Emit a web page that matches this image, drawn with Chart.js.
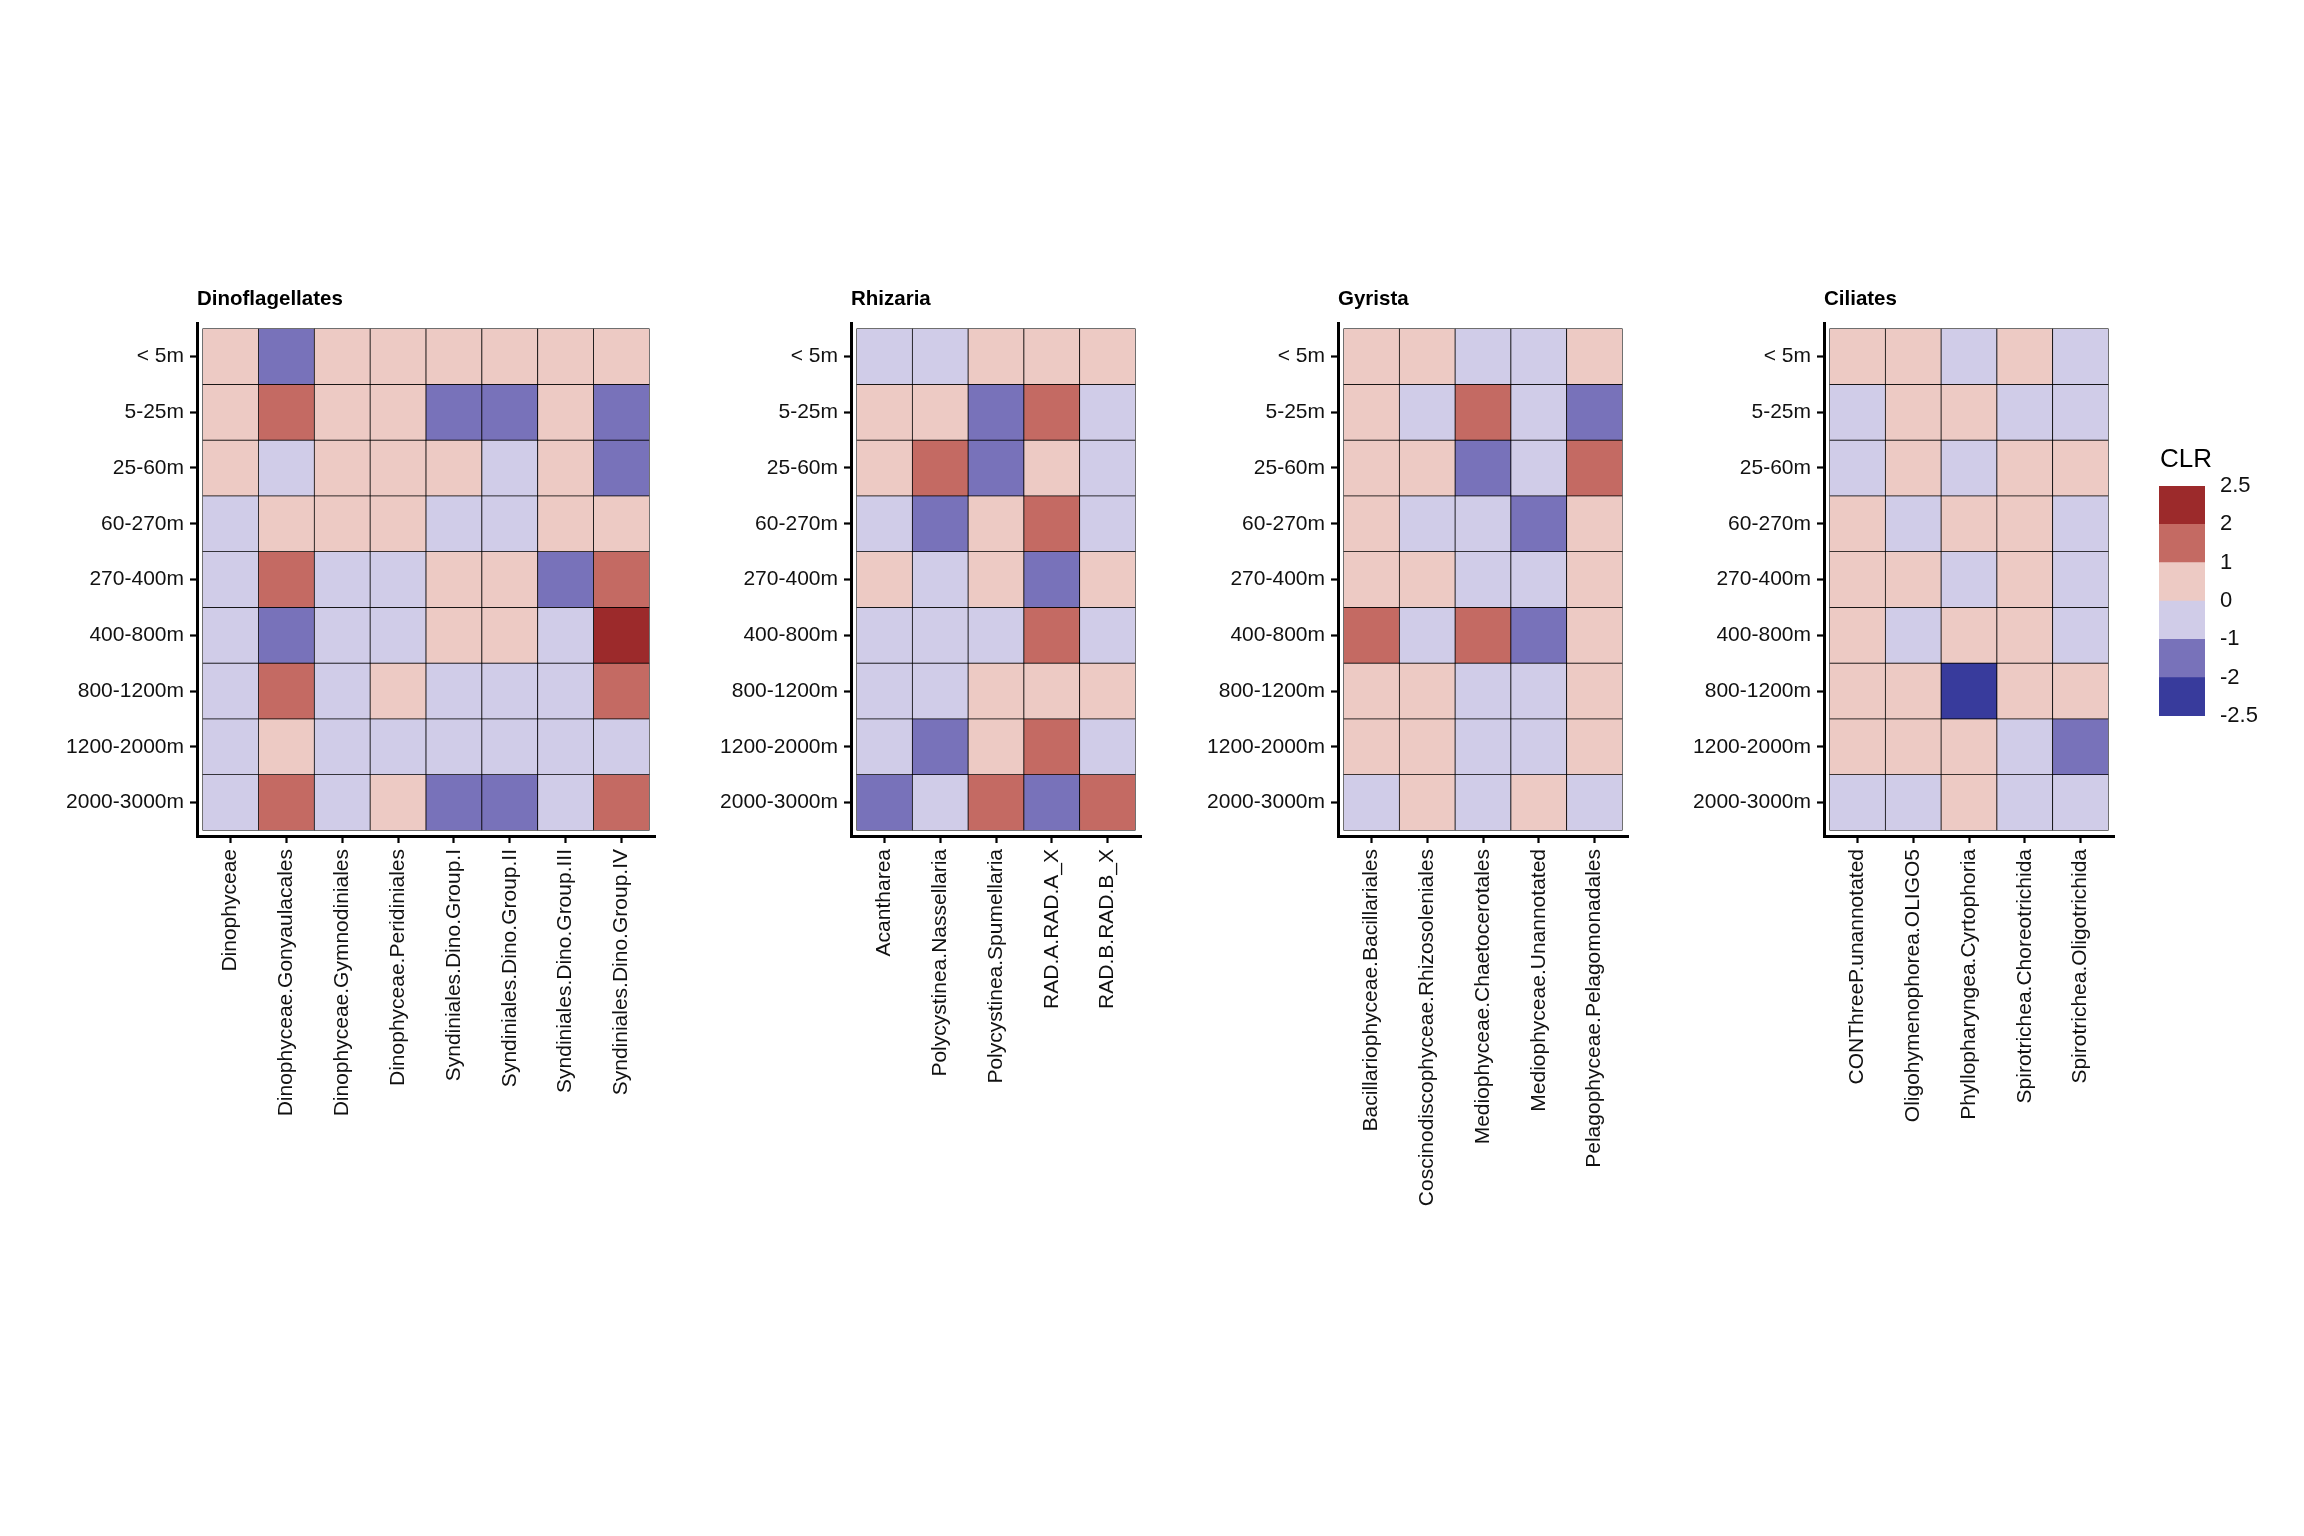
<!DOCTYPE html>
<html>
<head>
<meta charset="utf-8">
<title>CLR by depth</title>
<script src="https://cdn.jsdelivr.net/npm/chart.js@4.4.0/dist/chart.umd.min.js"></script>
<style>
  body { margin: 0; background: #fff; }
  #wrap { position: relative; width: 2304px; height: 1536px; overflow: hidden; background: #fff; }
  canvas { position: absolute; }
</style>
</head>
<body>
<div id="wrap">
  <canvas id="dino"></canvas>
  <canvas id="rhiz"></canvas>
  <canvas id="gyr"></canvas>
  <canvas id="cil"></canvas>
  <canvas id="legend"></canvas>
</div>
<script>
// Depth layers, top to bottom
const depths = ['< 5m', '5-25m', '25-60m', '60-270m', '270-400m', '400-800m', '800-1200m', '1200-2000m', '2000-3000m'];

// Dinoflagellates
const dinoTaxa = ['Dinophyceae', 'Dinophyceae.Gonyaulacales', 'Dinophyceae.Gymnodiniales', 'Dinophyceae.Peridiniales',
  'Syndiniales.Dino.Group.I', 'Syndiniales.Dino.Group.II', 'Syndiniales.Dino.Group.III', 'Syndiniales.Dino.Group.IV'];
const dinoCLR = [
  [0.5, -1.5, 0.5, 0.5, 0.5, 0.5, 0.5, 0.5],
  [0.5, 1.5, 0.5, 0.5, -1.5, -1.5, 0.5, -1.5],
  [0.5, -0.5, 0.5, 0.5, 0.5, -0.5, 0.5, -1.5],
  [-0.5, 0.5, 0.5, 0.5, -0.5, -0.5, 0.5, 0.5],
  [-0.5, 1.5, -0.5, -0.5, 0.5, 0.5, -1.5, 1.5],
  [-0.5, -1.5, -0.5, -0.5, 0.5, 0.5, -0.5, 2.3],
  [-0.5, 1.5, -0.5, 0.5, -0.5, -0.5, -0.5, 1.5],
  [-0.5, 0.5, -0.5, -0.5, -0.5, -0.5, -0.5, -0.5],
  [-0.5, 1.5, -0.5, 0.5, -1.5, -1.5, -0.5, 1.5]
];

// Rhizaria
const rhizTaxa = ['Acantharea', 'Polycystinea.Nassellaria', 'Polycystinea.Spumellaria', 'RAD.A.RAD.A_X', 'RAD.B.RAD.B_X'];
const rhizCLR = [
  [-0.5, -0.5, 0.5, 0.5, 0.5],
  [0.5, 0.5, -1.5, 1.5, -0.5],
  [0.5, 1.5, -1.5, 0.5, -0.5],
  [-0.5, -1.5, 0.5, 1.5, -0.5],
  [0.5, -0.5, 0.5, -1.5, 0.5],
  [-0.5, -0.5, -0.5, 1.5, -0.5],
  [-0.5, -0.5, 0.5, 0.5, 0.5],
  [-0.5, -1.5, 0.5, 1.5, -0.5],
  [-1.5, -0.5, 1.5, -1.5, 1.5]
];

// Gyrista
const gyrTaxa = ['Bacillariophyceae.Bacillariales', 'Coscinodiscophyceae.Rhizosoleniales', 'Mediophyceae.Chaetocerotales',
  'Mediophyceae.Unannotated', 'Pelagophyceae.Pelagomonadales'];
const gyrCLR = [
  [0.5, 0.5, -0.5, -0.5, 0.5],
  [0.5, -0.5, 1.5, -0.5, -1.5],
  [0.5, 0.5, -1.5, -0.5, 1.5],
  [0.5, -0.5, -0.5, -1.5, 0.5],
  [0.5, 0.5, -0.5, -0.5, 0.5],
  [1.5, -0.5, 1.5, -1.5, 0.5],
  [0.5, 0.5, -0.5, -0.5, 0.5],
  [0.5, 0.5, -0.5, -0.5, 0.5],
  [-0.5, 0.5, -0.5, 0.5, -0.5]
];

// Ciliates
const cilTaxa = ['CONThreeP.unannotated', 'Oligohymenophorea.OLIGO5', 'Phyllopharyngea.Cyrtophoria',
  'Spirotrichea.Choreotrichida', 'Spirotrichea.Oligotrichida'];
const cilCLR = [
  [0.5, 0.5, -0.5, 0.5, -0.5],
  [-0.5, 0.5, 0.5, -0.5, -0.5],
  [-0.5, 0.5, -0.5, 0.5, 0.5],
  [0.5, -0.5, 0.5, 0.5, -0.5],
  [0.5, 0.5, -0.5, 0.5, -0.5],
  [0.5, -0.5, 0.5, 0.5, -0.5],
  [0.5, 0.5, -2.4, 0.5, 0.5],
  [0.5, 0.5, 0.5, -0.5, -1.5],
  [-0.5, -0.5, 0.5, -0.5, -0.5]
];

// Binned colour scale
const clrBreaks = [-2.5, -2, -1, 0, 1, 2, 2.5];
const clrColors = ['#383b9c', '#7872ba', '#d0cce8', '#edcac4', '#c46a63', '#9c2a2b'];

function clrColor(v) {
  for (let i = 0; i < clrColors.length; i++) {
    if (v < clrBreaks[i + 1]) return clrColors[i];
  }
  return clrColors[clrColors.length - 1];
}

Chart.defaults.font.family = '"Liberation Sans", Arial, Helvetica, sans-serif';
Chart.defaults.color = '#111';

// title drawn at the left edge of the plot area, like ggplot
const panelTitle = {
  id: 'panelTitle',
  afterDraw(chart, args, opts) {
    const { ctx, chartArea } = chart;
    ctx.save();
    ctx.font = opts.font;
    ctx.fillStyle = '#000';
    ctx.textAlign = 'left';
    ctx.textBaseline = 'alphabetic';
    ctx.fillText(opts.text, chartArea.left + (opts.dx || 0), chartArea.top - opts.dy);
    ctx.restore();
  }
};

const CELL = 55.8;
const Y_W = 170, PAD_T = 70, PAD_R = 24, X_H = 430;
const AREA_TOP = 323;
const tickFont = { size: 21 };

function drawPanel(id, title, taxa, values, areaLeft) {
  const canvas = document.getElementById(id);
  const w = Math.round(Y_W + (taxa.length + 0.2) * CELL + PAD_R);
  const h = Math.round(PAD_T + (depths.length + 0.2) * CELL + X_H);
  canvas.width = w;
  canvas.height = h;
  canvas.style.left = (areaLeft - Y_W) + 'px';
  canvas.style.top = (AREA_TOP - PAD_T) + 'px';

  const datasets = values.map((row, r) => ({
    label: depths[r],
    data: taxa.map((t, i) => ({ x: i, y: 1 })),
    backgroundColor: row.map(clrColor),
    borderColor: '#000',
    borderWidth: 0.75,
    borderSkipped: false,
    barPercentage: 1,
    categoryPercentage: 1
  }));

  new Chart(canvas, {
    type: 'bar',
    data: { datasets },
    options: {
      responsive: false,
      animation: false,
      events: [],
      layout: { padding: { top: PAD_T, right: PAD_R, left: 0, bottom: 0 } },
      plugins: {
        legend: { display: false },
        tooltip: { enabled: false },
        panelTitle: { text: title, font: 'bold 20.5px "Liberation Sans", Arial, sans-serif', dy: 18 }
      },
      scales: {
        x: {
          type: 'linear',
          stacked: true,
          offset: false,
          bounds: 'data',
          min: -0.6,
          max: taxa.length - 0.4,
          afterBuildTicks: a => { a.ticks = taxa.map((t, i) => ({ value: i })); },
          afterFit: s => { s.height = X_H; },
          grid: { display: true, offset: false, drawOnChartArea: false, drawTicks: true, tickLength: 7, tickWidth: 2.2, tickColor: '#000' },
          border: { display: true, width: 3, color: '#000' },
          ticks: {
            autoSkip: false, minRotation: 90, maxRotation: 90, padding: 6,
            font: tickFont, color: '#111',
            callback: (v, i) => taxa[i]
          }
        },
        y: {
          type: 'linear',
          stacked: true,
          reverse: true,
          bounds: 'data',
          min: -0.1,
          max: depths.length + 0.1,
          afterBuildTicks: a => { a.ticks = depths.map((d, i) => ({ value: i + 0.5 })); },
          afterFit: s => { s.width = Y_W; },
          grid: { display: true, offset: false, drawOnChartArea: false, drawTicks: true, tickLength: 7, tickWidth: 2.2, tickColor: '#000' },
          border: { display: true, width: 3, color: '#000' },
          ticks: { padding: 6, font: tickFont, color: '#111', callback: (v, i) => depths[i] }
        }
      }
    },
    plugins: [panelTitle]
  });
}

drawPanel('dino', 'Dinoflagellates', dinoTaxa, dinoCLR, 197);
drawPanel('rhiz', 'Rhizaria', rhizTaxa, rhizCLR, 851);
drawPanel('gyr', 'Gyrista', gyrTaxa, gyrCLR, 1338);
drawPanel('cil', 'Ciliates', cilTaxa, cilCLR, 1824);

// colour steps legend
const lg = document.getElementById('legend');
lg.width = 156;
lg.height = 320;
lg.style.left = '2149px';
lg.style.top = '426px';
new Chart(lg, {
  type: 'bar',
  data: {
    labels: [''],
    datasets: clrColors.map((c, i) => ({
      label: clrBreaks[i] + ' to ' + clrBreaks[i + 1],
      data: [1],
      backgroundColor: c,
      borderWidth: 0,
      barPercentage: 1,
      categoryPercentage: 1
    }))
  },
  options: {
    responsive: false,
    animation: false,
    events: [],
    layout: { padding: { left: 10, top: 60, bottom: 30, right: 0 } },
    plugins: {
      legend: { display: false },
      tooltip: { enabled: false },
      panelTitle: { text: 'CLR', font: '26px "Liberation Sans", Arial, sans-serif', dy: 19, dx: 1 }
    },
    scales: {
      x: { display: false, stacked: true },
      y: {
        position: 'right',
        stacked: true,
        bounds: 'data',
        min: 0,
        max: clrColors.length,
        afterBuildTicks: a => { a.ticks = clrBreaks.map((b, i) => ({ value: i })); },
        afterFit: s => { s.width = 100; },
        grid: { display: false, drawTicks: false },
        border: { display: false },
        ticks: { padding: 15, font: { size: 22 }, color: '#111', callback: (v, i) => String(clrBreaks[i]) }
      }
    }
  },
  plugins: [panelTitle]
});
</script>
</body>
</html>
